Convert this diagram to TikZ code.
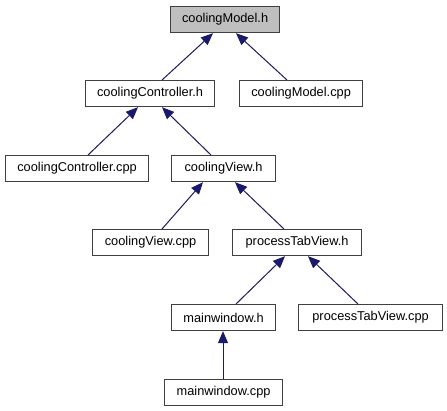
\documentclass[tikz,border=0pt]{standalone}
\usepackage{fontspec}
\setmainfont{Liberation Sans}
\usetikzlibrary{arrows.meta,calc}
\definecolor{edgeblue}{HTML}{191970}
\definecolor{rootgray}{HTML}{BFBFBF}
\tikzset{
  filebox/.style={draw=black!75, line width=0.9pt, fill=white, inner sep=0pt, anchor=north west,
    minimum height=19.5pt, font=\fontsize{9.6pt}{11pt}\selectfont, text=black},
  dep/.style={draw=edgeblue, line width=0.75pt, -{Triangle[length=9pt,width=7.5pt,fill=edgeblue]}}
}
\begin{document}
\begin{tikzpicture}[x=0.75pt,y=-0.75pt]
\useasboundingbox[fill=white] (0,0) rectangle (447,411);
\node[filebox, fill=rootgray, minimum width=81.75pt] (cmh) at (170,6) {coolingModel.h};
\node[filebox, minimum width=96.75pt] (cch) at (85,80) {coolingController.h};
\node[filebox, minimum width=92.25pt] (cmc) at (239,80) {coolingModel.cpp};
\node[filebox, minimum width=107.25pt] (ccc) at (5,155) {coolingController.cpp};
\node[filebox, minimum width=78pt] (cvh) at (171,155) {coolingView.h};
\node[filebox, minimum width=87pt] (cvc) at (92,229) {coolingView.cpp};
\node[filebox, minimum width=96.75pt] (pth) at (232,229) {processTabView.h};
\node[filebox, minimum width=78pt] (mwh) at (171,304) {mainwindow.h};
\node[filebox, minimum width=108pt] (ptc) at (298,304) {processTabView.cpp};
\node[filebox, minimum width=88.5pt] (mwc) at (164,379) {mainwindow.cpp};
\draw[dep] ($(cch.north west)+(77,0)$) -- ($(cmh.south west)+(43,0)$);
\draw[dep] ($(cmc.north west)+(48,0)$) -- ($(cmh.south west)+(66,0)$);
\draw[dep] ($(ccc.north west)+(83,0)$) -- ($(cch.south west)+(53,0)$);
\draw[dep] ($(cvh.north west)+(40,0)$) -- ($(cch.south west)+(77,0)$);
\draw[dep] ($(cvc.north west)+(70,0)$) -- ($(cvh.south west)+(32,0)$);
\draw[dep] ($(pth.north west)+(52,0)$) -- ($(cvh.south west)+(64,0)$);
\draw[dep] ($(mwh.north west)+(65,0)$) -- ($(pth.south west)+(53,0)$);
\draw[dep] ($(ptc.north west)+(60,0)$) -- ($(pth.south west)+(76,0)$);
\draw[dep] ($(mwc.north west)+(59,0)$) -- ($(mwh.south west)+(52,0)$);
\end{tikzpicture}
\end{document}
